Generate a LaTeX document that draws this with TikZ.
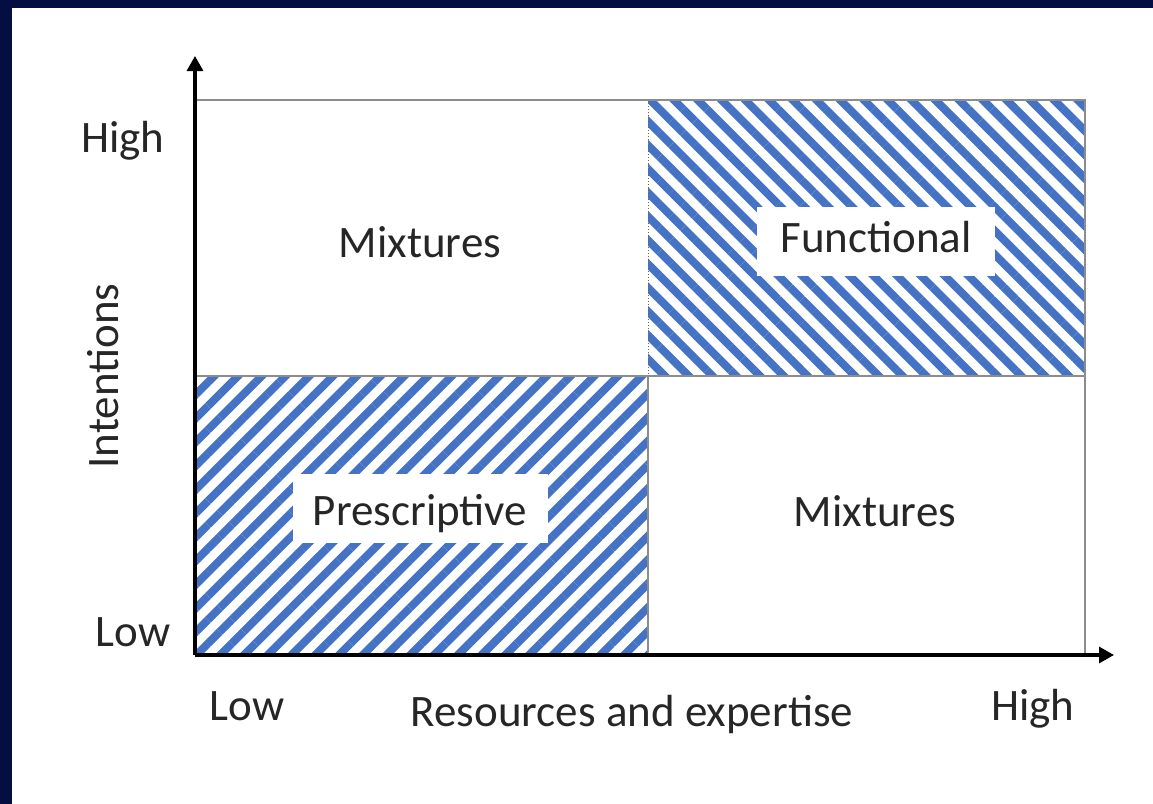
\documentclass[tikz,border=0pt]{standalone}
\usepackage{fontspec}
\setmainfont{Carlito}
\usetikzlibrary{patterns.meta}
\usetikzlibrary{arrows.meta}
\definecolor{navy}{HTML}{050E40}
\definecolor{hatchblue}{HTML}{4472C4}
\definecolor{gridgray}{HTML}{8C8C8C}
\begin{document}
\begin{tikzpicture}[x=0.5pt,y=-0.5pt,
    lbl/.style={font=\fontsize{22.5}{27}\selectfont, text=black!85, inner sep=0pt},
    labelbox/.style={lbl, fill=white, minimum width=#1, minimum height=34.5pt, text depth=2pt},
    hatch/.style={pattern={Lines[angle=#1,distance=8.4pt,line width=4pt]}, pattern color=hatchblue},
    axis/.style={line width=1.6pt, -{Triangle[length=7.5pt,width=8pt]}}]

      \useasboundingbox (0,0) rectangle (1153,804);
      \fill[white] (0,0) rectangle (1153,804);
      \fill[navy] (0,0) rectangle (12,804);
      \fill[navy] (0,0) rectangle (1153,8);

      % quadrants
      \fill[hatch=-45] (648,100) rectangle (1085,376);
      \fill[hatch=45] (195,376) rectangle (648,655);
      \draw[black!60, densely dotted, line width=0.5pt] (195,376) rectangle (648,655);
      \draw[black!60, densely dotted, line width=0.5pt] (648,100) rectangle (1085,376);
      \draw[gridgray, line width=1pt] (195,100) -- (1085,100) -- (1085,655);
      \draw[gridgray, line width=1pt] (195,376) -- (1085,376);
      \draw[gridgray, line width=1pt] (648,376) -- (648,655);

      % axes
      \coordinate (origin) at (195,655);
      \coordinate (ytip) at (195,56);
      \coordinate (xtip) at (1114,655);
      \draw[axis] (origin) -- (ytip);
      \draw[axis] (origin) -- (xtip);

      \node[lbl, anchor=base] (yhigh) at (123,152) {High};
      \node[lbl, anchor=base] (ylow) at (133,646) {Low};
      \node[lbl, anchor=base, rotate=90] (yname) at (118,376) {Intentions};
      \node[lbl, anchor=base] (xlow) at (247,720) {Low};
      \node[lbl, anchor=base] (xname) at (632,726) {Resources and expertise};
      \node[lbl, anchor=base] (xhigh) at (1033,720) {High};

      \node[lbl, anchor=base] (mixtl) at (420,257) {Mixtures};
      \node[labelbox=119pt, text height=13.5pt] (func) at (876,241) {Functional};
      \node[labelbox=127.5pt, text height=19pt] (presc) at (420,508) {Prescriptive};
      \node[lbl, anchor=base] (mixbr) at (875,526) {Mixtures};

    \end{tikzpicture}
\end{document}
